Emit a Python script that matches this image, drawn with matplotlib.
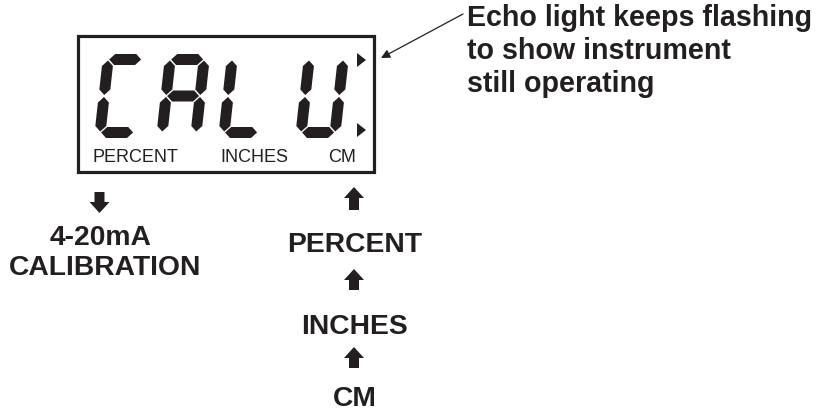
import matplotlib
matplotlib.use("Agg")
import matplotlib.pyplot as plt
from matplotlib.patches import Polygon, Rectangle, FancyArrow

# ---- content ----
display_chars = ["C", "A", "L", "U"]
lcd_labels = ["PERCENT", "INCHES", "CM"]
menu_items = ["PERCENT", "INCHES", "CM"]
cal_lines = ["4-20mA", "CALIBRATION"]
note_lines = ["Echo light keeps flashing", "to show instrument", "still operating"]

# which 7 segments are lit for each character
SEGMENTS = {
    "C": "adef",
    "A": "abcefg",
    "L": "def",
    "U": "bcdef",
}

INK = "#231f20"
FONT = ["Liberation Sans", "DejaVu Sans"]
plt.rcParams["font.family"] = FONT

fig = plt.figure(figsize=(8.2, 4.13), dpi=100)
ax = fig.add_axes([0, 0, 1, 1])
ax.set_xlim(0, 820)
ax.set_ylim(413, 0)
ax.axis("off")

# ---- LCD box ----
ax.add_patch(Rectangle((78, 36), 296, 136, fill=False, lw=2.3, ec=INK))

# ---- 7-segment digits ----
W, H, T, G, S = 45, 84, 11, 1.0, 0.11


def hseg(u1, u2, v, x0, yb):
    pts = [(u1, v), (u1 + T / 2, v + T / 2), (u2 - T / 2, v + T / 2),
           (u2, v), (u2 - T / 2, v - T / 2), (u1 + T / 2, v - T / 2)]
    return [(x0 + u + vv * S, yb - vv) for u, vv in pts]


def vseg(u, v1, v2, x0, yb):
    pts = [(u, v1), (u + T / 2, v1 + T / 2), (u + T / 2, v2 - T / 2),
           (u, v2), (u - T / 2, v2 - T / 2), (u - T / 2, v1 + T / 2)]
    return [(x0 + uu + v * S, yb - v) for uu, v in pts]


def draw_digit(ch, x0, yb):
    uL, uR = T / 2, W - T / 2
    vB, vM, vT = T / 2, H / 2, H - T / 2
    segs = {
        "a": hseg(uL + G, uR - G, vT, x0, yb),
        "d": hseg(uL + G, uR - G, vB, x0, yb),
        "g": hseg(uL + G, uR - G, vM, x0, yb),
        "f": vseg(uL, vM + G, vT - G, x0, yb),
        "e": vseg(uL, vB + G, vM - G, x0, yb),
        "b": vseg(uR, vM + G, vT - G, x0, yb),
        "c": vseg(uR, vB + G, vM - G, x0, yb),
    }
    for s in SEGMENTS[ch]:
        ax.add_patch(Polygon(segs[s], closed=True, fc=INK, ec="none"))


digit_x = [94, 156, 218, 295]
for ch, x0 in zip(display_chars, digit_x):
    draw_digit(ch, x0, 138)

# echo triangles
for yc in (60, 130):
    ax.add_patch(Polygon([(357, yc - 7), (366, yc), (357, yc + 7)],
                         closed=True, fc=INK, ec="none"))

# LCD labels
for lab, xc in zip(lcd_labels, [135, 254, 342]):
    ax.text(xc, 158, lab, ha="center", va="center", fontsize=13, color=INK)

# ---- leader arrow ----
ax.annotate("", xy=(381, 58), xytext=(463, 14),
            arrowprops=dict(arrowstyle="-|>", lw=0.9, color=INK,
                            mutation_scale=13, shrinkA=0, shrinkB=0))

# note text
for i, line in enumerate(note_lines):
    ax.text(467, 18 + i * 33, line, ha="left", va="center", fontsize=20.6,
            fontweight="bold", color=INK)


# ---- block arrows ----
def block_arrow(xc, y_tail, y_head):
    ax.add_patch(FancyArrow(xc, y_tail, 0, y_head - y_tail, width=10,
                            head_width=20, head_length=11,
                            length_includes_head=True, fc=INK, ec="none"))


block_arrow(99.5, 192, 213)
for yt, yh in [(210, 187), (290, 269), (368, 347)]:
    block_arrow(354, yt, yh)

# calibration label
ax.text(101, 238, cal_lines[0], ha="center", va="center", fontsize=20.3,
        fontweight="bold", color=INK)
ax.text(105, 268, cal_lines[1], ha="center", va="center", fontsize=20.3,
        fontweight="bold", color=INK)

# menu items
for item, yc in zip(menu_items, [245, 327, 399]):
    ax.text(355, yc, item, ha="center", va="center", fontsize=20.3,
            fontweight="bold", color=INK)

fig.savefig("out.png", dpi=100)
